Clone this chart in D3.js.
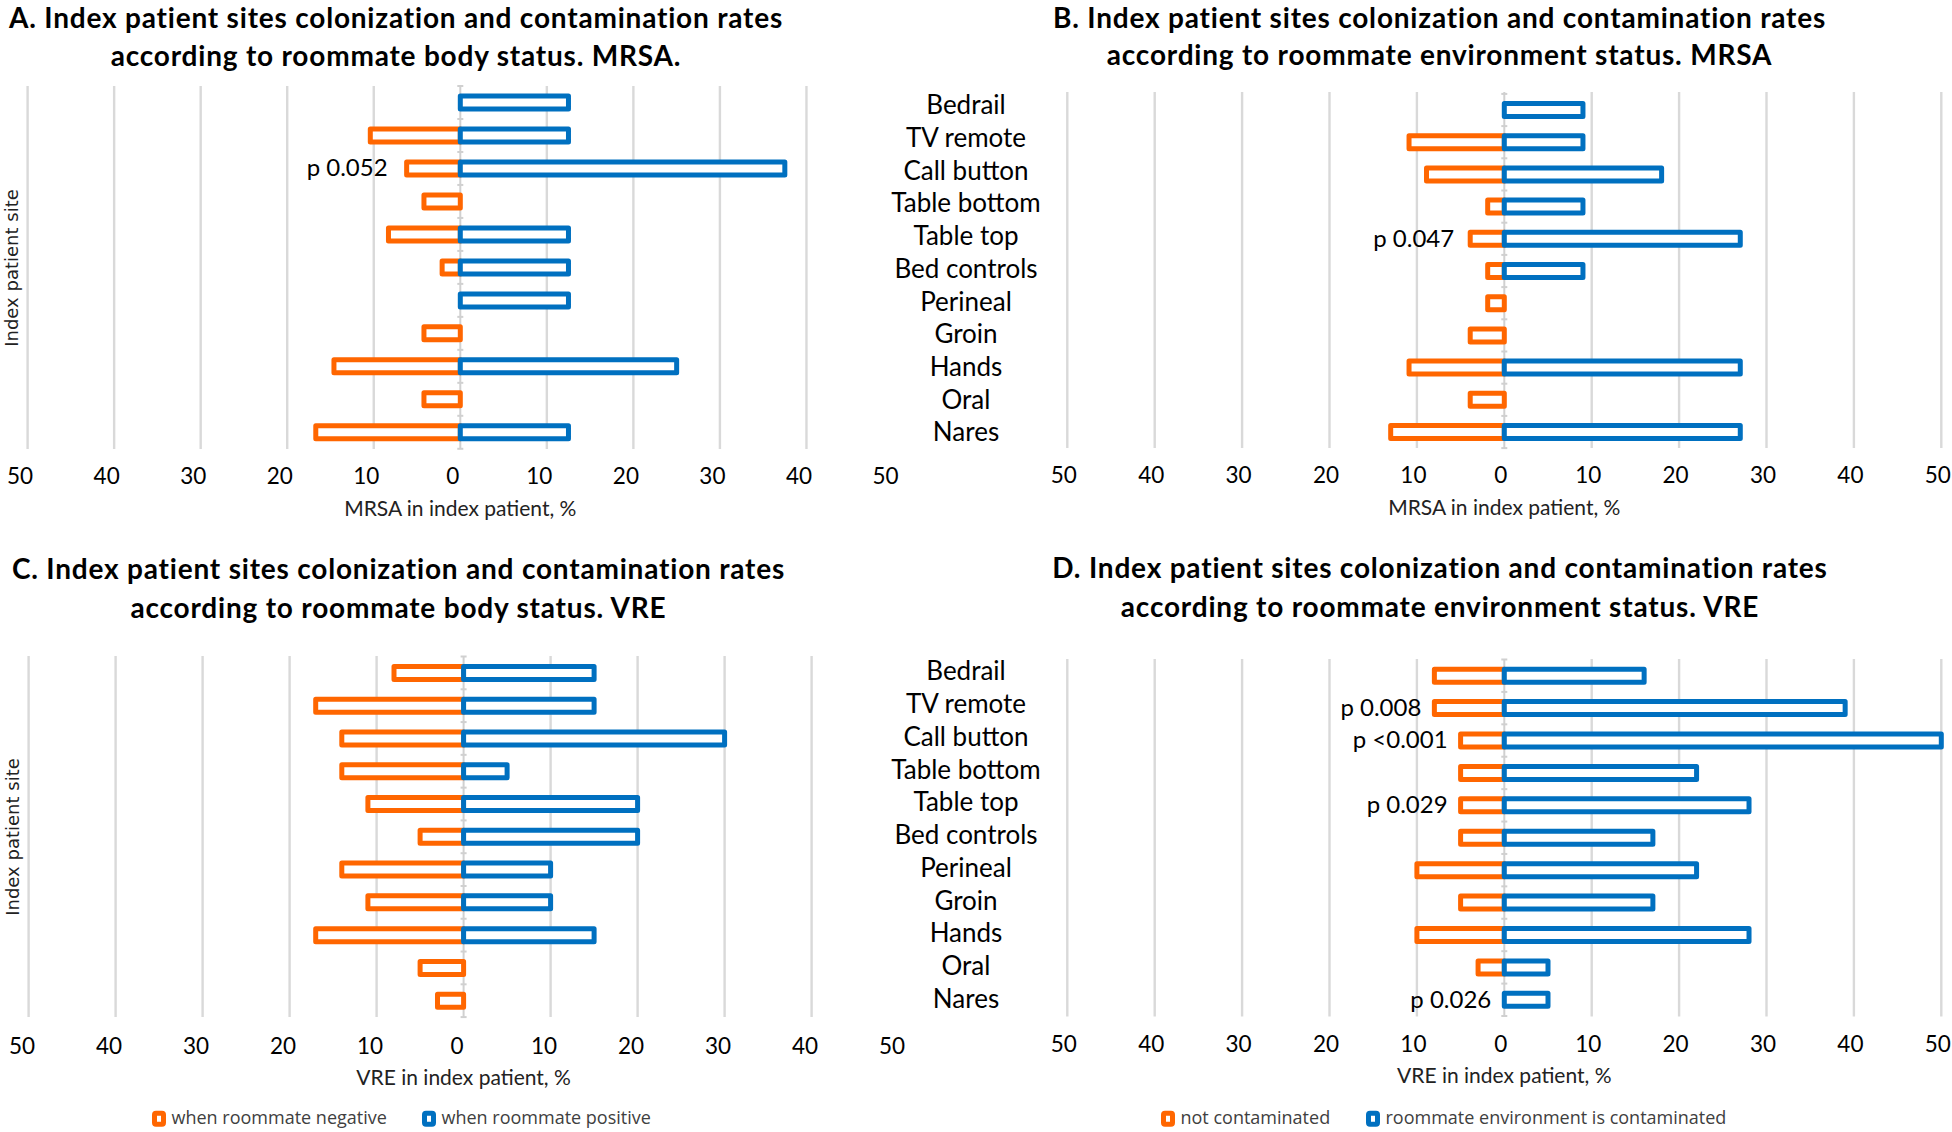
<!DOCTYPE html>
<html>
<head>
<meta charset="utf-8">
<script src="https://cdn.jsdelivr.net/npm/d3@7"></script>
<style>
  html, body { margin: 0; padding: 0; background: #fff; }
  svg { display: block; }
  .calib { font-family: Lato, "Open Sans", sans-serif; }
</style>
</head>
<body>
<div id="chart"></div>
<script>
"use strict";

// sites, top to bottom
var sites = ["Bedrail", "TV remote", "Call button", "Table bottom", "Table top",
             "Bed controls", "Perineal", "Groin", "Hands", "Oral", "Nares"];

var tickValues = [-50, -40, -30, -20, -10, 0, 10, 20, 30, 40, 50];

// % of index patients positive
var mrsaBodyNeg = [0, 10.4, 6.2, 4.2, 8.3, 2.1, 0, 4.2, 14.6, 4.2, 16.7];
var mrsaBodyPos = [12.5, 12.5, 37.5, 0, 12.5, 12.5, 12.5, 0, 25, 0, 12.5];
var mrsaEnvNeg = [0, 10.9, 8.9, 1.9, 3.9, 1.9, 1.9, 3.9, 10.9, 3.9, 13];
var mrsaEnvPos = [9, 9, 18, 9, 27, 9, 0, 0, 27, 0, 27];
var vreBodyNeg = [8, 17, 14, 14, 11, 5, 14, 11, 17, 5, 3];
var vreBodyPos = [15, 15, 30, 5, 20, 20, 10, 10, 15, 0, 0];
var vreEnvNeg = [8, 8, 5, 5, 5, 5, 10, 5, 10, 3, 0];
var vreEnvPos = [16, 39, 50, 22, 28, 17, 22, 17, 28, 5, 5];

// p values shown next to some sites
var pMrsaBody = [["Call button", "p 0.052"]];
var pMrsaEnv = [["Table top", "p 0.047"]];
var pVreBody = [];
var pVreEnv = [["TV remote", "p 0.008"], ["Call button", "p <0.001"],
               ["Table top", "p 0.029"], ["Nares", "p 0.026"]];

var bodyLegend = ["when roommate negative", "when roommate positive"];
var envLegend = ["not contaminated", "roommate environment is contaminated"];

var ORANGE = "#ff6600",
    BLUE = "#0070c0",
    GRID = "#d9d9d9";

var W = 1952, H = 1132;

var svg = d3.select("#chart").append("svg")
  .attr("width", W)
  .attr("height", H);

var panels = [
  {
    title: ["A. Index patient sites colonization and contamination rates",
            "according to roommate body status. MRSA."],
    titleX: 396, titleY: [28, 66],
    neg: mrsaBodyNeg, pos: mrsaBodyPos, pvals: pMrsaBody, pGap: 19,
    xRange: [27.6, 893], gridMax: 40, labelShift: -8,
    top: 86, bottom: 449, rows: [102.5, 432.3],
    tickY: 484, axisTitle: "MRSA in index patient, %", axisTitleY: 516,
    yTitle: true, yTitleX: 18, yTitleY: 268
  },
  {
    title: ["B. Index patient sites colonization and contamination rates",
            "according to roommate environment status. MRSA"],
    titleX: 1439.5, titleY: [28, 65],
    neg: mrsaEnvNeg, pos: mrsaEnvPos, pvals: pMrsaEnv, pGap: 16,
    xRange: [1067.3, 1941.3], gridMax: 50, labelShift: -4,
    top: 92, bottom: 448, rows: [110, 432],
    tickY: 483, axisTitle: "MRSA in index patient, %", axisTitleY: 515,
    siteLabels: [105, 432]
  },
  {
    title: ["C. Index patient sites colonization and contamination rates",
            "according to roommate body status. VRE"],
    titleX: 398.5, titleY: [579, 618],
    neg: vreBodyNeg, pos: vreBodyPos, pvals: pVreBody, pGap: 16,
    xRange: [28.6, 898.6], gridMax: 40, labelShift: -7,
    top: 656, bottom: 1017, rows: [672.9, 1000.7],
    tickY: 1054, axisTitle: "VRE in index patient, %", axisTitleY: 1085,
    yTitle: true, yTitleX: 19, yTitleY: 837,
    legend: bodyLegend, legendX: [152, 422]
  },
  {
    title: ["D. Index patient sites colonization and contamination rates",
            "according to roommate environment status. VRE"],
    titleX: 1440, titleY: [577.5, 616.5],
    neg: vreEnvNeg, pos: vreEnvPos, pvals: pVreEnv, pGap: 13,
    xRange: [1067.3, 1941.3], gridMax: 50, labelShift: -4,
    top: 659, bottom: 1016.5, rows: [675.7, 999.8],
    tickY: 1052, axisTitle: "VRE in index patient, %", axisTitleY: 1083,
    siteLabels: [671, 998.5],
    legend: envLegend, legendX: [1161, 1366]
  }
];

panels.forEach(drawPanel);

function drawPanel(p) {
  var g = svg.append("g");

  var x = d3.scaleLinear().domain([-50, 50]).range(p.xRange);
  var y = d3.scalePoint().domain(sites).range(p.rows);
  var step = y.step();
  var barH = 13;

  // title
  g.append("text")
    .attr("class", "calib")
    .attr("text-anchor", "middle")
    .style("font-size", "28px")
    .style("font-weight", "bold")
    .style("letter-spacing", "0.8px")
    .attr("fill", "#000")
    .selectAll("tspan")
    .data(p.title)
    .enter().append("tspan")
      .attr("x", p.titleX)
      .attr("y", function(d, i) { return p.titleY[i]; })
      .text(function(d) { return d; });

  // vertical gridlines
  g.append("g")
    .selectAll("line")
    .data(tickValues.filter(function(v) { return v !== 0 && v <= p.gridMax; }))
    .enter().append("line")
      .attr("x1", function(d) { return x(d); })
      .attr("x2", function(d) { return x(d); })
      .attr("y1", p.top)
      .attr("y2", p.bottom)
      .attr("stroke", GRID)
      .attr("stroke-width", 2.4);

  // category axis at zero, with small ticks between rows
  var axisG = g.append("g").attr("stroke", "#d0d0d0").attr("stroke-width", 2);
  axisG.append("line")
    .attr("x1", x(0)).attr("x2", x(0))
    .attr("y1", p.top).attr("y2", p.bottom);
  axisG.selectAll(".tk")
    .data(d3.range(sites.length + 1))
    .enter().append("line")
      .attr("class", "tk")
      .attr("x1", x(0) - 3).attr("x2", x(0) + 3)
      .attr("y1", function(i) { return p.rows[0] - step / 2 + i * step; })
      .attr("y2", function(i) { return p.rows[0] - step / 2 + i * step; });

  // bars, hollow with a thick border
  var rows = sites.map(function(s, i) { return {site: s, neg: p.neg[i], pos: p.pos[i]}; });

  g.append("g")
    .selectAll("rect")
    .data(rows.filter(function(d) { return d.neg > 0; }))
    .enter().append("rect")
      .attr("x", function(d) { return x(-d.neg); })
      .attr("width", function(d) { return x(0) - x(-d.neg); })
      .attr("y", function(d) { return y(d.site) - barH / 2; })
      .attr("height", barH)
      .attr("fill", "#fff")
      .attr("stroke", ORANGE)
      .attr("stroke-width", 5)
      .attr("stroke-linejoin", "round");

  g.append("g")
    .selectAll("rect")
    .data(rows.filter(function(d) { return d.pos > 0; }))
    .enter().append("rect")
      .attr("x", x(0))
      .attr("width", function(d) { return x(d.pos) - x(0); })
      .attr("y", function(d) { return y(d.site) - barH / 2; })
      .attr("height", barH)
      .attr("fill", "#fff")
      .attr("stroke", BLUE)
      .attr("stroke-width", 5)
      .attr("stroke-linejoin", "round");

  // p value notes, left of the orange bar
  g.append("g")
    .selectAll("text")
    .data(p.pvals)
    .enter().append("text")
      .attr("class", "calib")
      .attr("text-anchor", "end")
      .style("font-size", "24px")
      .attr("fill", "#000")
      .attr("x", function(d) { return x(-p.neg[sites.indexOf(d[0])]) - p.pGap; })
      .attr("y", function(d) { return y(d[0]); })
      .attr("dy", "0.33em")
      .text(function(d) { return d[1]; });

  // value axis labels (absolute values on both sides)
  var axis = d3.axisBottom(x)
    .tickValues(tickValues)
    .tickSize(0)
    .tickPadding(0)
    .tickFormat(function(d) { return Math.abs(d); });

  var ax = g.append("g")
    .attr("transform", "translate(" + p.labelShift + "," + p.tickY + ")")
    .call(axis);
  ax.select(".domain").remove();
  ax.selectAll("text")
    .attr("class", "calib")
    .attr("y", 0)
    .attr("dy", 0)
    .attr("fill", "#000")
    .style("font-size", "22.5px");

  g.append("text")
    .attr("class", "calib")
    .attr("text-anchor", "middle")
    .attr("x", x(0))
    .attr("y", p.axisTitleY)
    .style("font-size", "21px")
    .attr("fill", "#222")
    .text(p.axisTitle);

  if (p.yTitle) {
    g.append("text")
      .attr("transform", "translate(" + p.yTitleX + "," + p.yTitleY + ") rotate(-90)")
      .attr("text-anchor", "middle")
      .style("font-family", "'DejaVu Sans', Verdana, sans-serif")
      .style("font-size", "18px")
      .attr("fill", "#222")
      .text("Index patient site");
  }

  // site names sit between the panels, drawn with the right-hand charts
  if (p.siteLabels) {
    var ly = d3.scalePoint().domain(sites).range(p.siteLabels);
    g.append("g")
      .selectAll("text")
      .data(sites)
      .enter().append("text")
        .attr("class", "calib")
        .attr("text-anchor", "middle")
        .attr("x", 966)
        .attr("y", function(d) { return ly(d); })
        .attr("dy", "0.36em")
        .style("font-size", "26px")
        .attr("fill", "#000")
        .text(function(d) { return d; });
  }

  if (p.legend) {
    var colors = [ORANGE, BLUE];
    var items = g.append("g")
      .selectAll("g")
      .data(p.legend)
      .enter().append("g")
        .attr("transform", function(d, i) { return "translate(" + p.legendX[i] + ",1124)"; });
    items.append("rect")
      .attr("x", 2.5).attr("y", -10.8)
      .attr("width", 9).attr("height", 11)
      .attr("rx", 1.5)
      .attr("fill", "#fff")
      .attr("stroke", function(d, i) { return colors[i]; })
      .attr("stroke-width", 5);
    items.append("text")
      .attr("x", 19.5)
      .attr("y", 0)
      .style("font-family", "'Open Sans', sans-serif")
      .style("font-size", "18px")
      .attr("fill", "#404040")
      .text(function(d) { return d; });
  }
}
</script>
</body>
</html>
